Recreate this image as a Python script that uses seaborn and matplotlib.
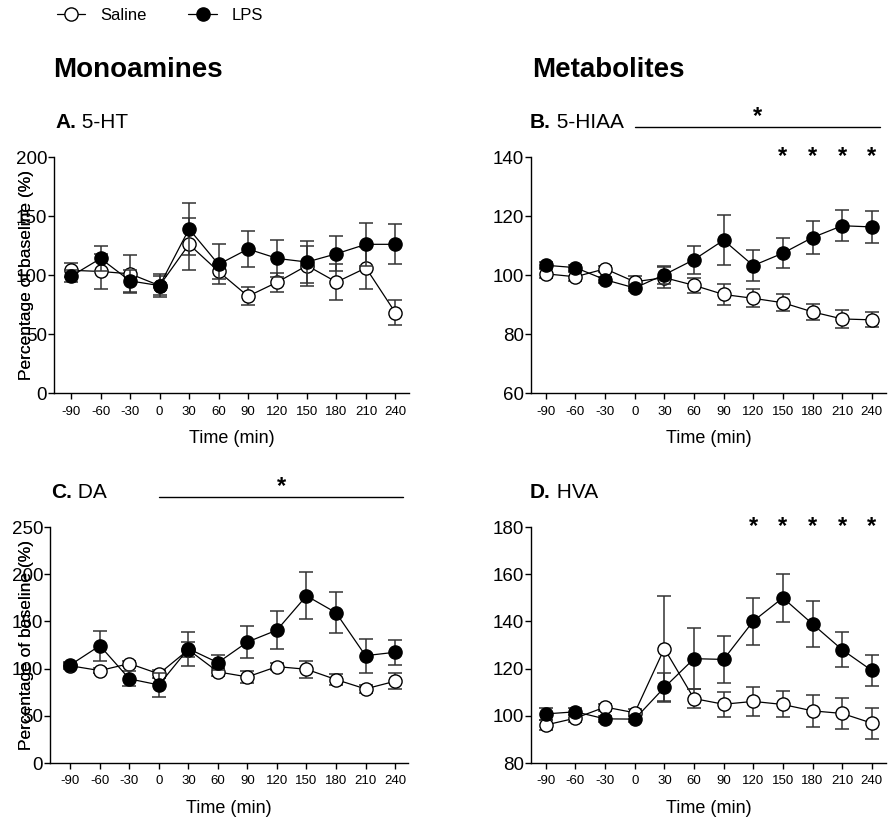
import numpy as np
import pandas as pd
import matplotlib
matplotlib.use("Agg")
import matplotlib.pyplot as plt
from matplotlib.lines import Line2D
import seaborn as sns

# ---------------- data ----------------
time_labels = ['-90', '-60', '-30', '0', '30', '60', '90', '120', '150', '180', '210', '240']

sal_5ht = [104, 103, 101, 91, 126, 103, 82, 94, 108, 94, 106, 68]
sal_5ht_sem = [6, 15, 16, 8, 22, 6, 7.5, 8, 17, 15, 18, 10.5]
lps_5ht = [99, 114, 95, 91, 139, 109, 122, 114, 111, 118, 126, 126]
lps_5ht_sem = [5, 11, 9, 10, 22, 17, 15, 16, 18, 15, 18, 17]

sal_5hiaa = [100.4, 99.4, 102.1, 97.7, 99.1, 96.5, 93.4, 92.1, 90.6, 87.5, 85.1, 84.8]
sal_5hiaa_sem = [1.5, 1.5, 1, 2, 3.5, 2.5, 3.5, 3, 2.8, 2.8, 3, 2.5]
lps_5hiaa = [103.3, 102.5, 98.4, 95.6, 100.1, 105.2, 111.8, 103.2, 107.4, 112.7, 116.7, 116.3]
lps_5hiaa_sem = [1, 1, 1, 1, 3, 4.7, 8.5, 5.4, 5, 5.6, 5.2, 5.5]

sal_da = [103, 97.9, 105.3, 94.4, 120, 96.5, 91.2, 102.1, 99.3, 88.4, 78.5, 86.6]
sal_da_sem = [3, 3, 3, 4, 8, 4, 6.5, 4, 9, 6, 4, 8.5]
lps_da = [103.9, 124.3, 89.1, 82.7, 121.1, 106.3, 128.2, 140.8, 177.1, 159.2, 113.7, 117.3]
lps_da_sem = [3, 16, 8, 13, 18, 8, 17, 20, 25, 22, 18, 13]

sal_hva = [96.1, 99.0, 103.7, 101.3, 128.5, 107.3, 104.9, 106.1, 104.8, 102.1, 101.0, 96.9]
sal_hva_sem = [2, 1.5, 1.5, 1.5, 22.3, 4.2, 5.2, 6.3, 5.5, 6.8, 6.7, 6.6]
lps_hva = [100.8, 101.7, 98.7, 98.6, 112.0, 124.2, 123.9, 140.1, 150.0, 138.9, 128.0, 119.2]
lps_hva_sem = [2.7, 1.5, 1.2, 1.2, 6, 13, 9.8, 9.9, 10.1, 9.7, 7.4, 6.4]

panel_letters = ['A.', 'B.', 'C.', 'D.']
panel_names = ['5-HT', '5-HIAA', 'DA', 'HVA']
section_titles = ['Monoamines', 'Metabolites']
legend_labels = ['Saline', 'LPS']

# significance: (bar start index, bar end index) or None ; star indices
sig_bar = [None, (3, 11.28), (3, 11.28), None]
sig_points = [[], [8, 9, 10, 11], [], [7, 8, 9, 10, 11]]

# ---------------- style ----------------
sns.set_theme(style="ticks")
plt.rcParams['font.family'] = ['Liberation Sans', 'DejaVu Sans']
plt.rcParams['axes.linewidth'] = 1.0
plt.rcParams['text.color'] = 'black'
plt.rcParams['axes.labelcolor'] = 'black'
plt.rcParams['xtick.color'] = 'black'
plt.rcParams['ytick.color'] = 'black'
plt.rcParams['axes.edgecolor'] = 'black'

W, H = 888, 817
fig = plt.figure(figsize=(W / 100, H / 100), dpi=100)


def axpos(l, r, t, b):
    return [l / W, 1 - b / H, (r - l) / W, (b - t) / H]


boxes = [(54, 409, 157, 393), (531, 886, 157, 393),
         (50, 408, 527, 763), (531, 886, 527, 763)]
xlims = [(-0.58, 11.46), (-0.5, 11.48), (-0.69, 11.44), (-0.5, 11.48)]
ylims = [(0, 200), (60, 140), (0, 250), (80, 180)]
ysteps = [50, 20, 50, 20]

sal_sets = [(sal_5ht, sal_5ht_sem), (sal_5hiaa, sal_5hiaa_sem), (sal_da, sal_da_sem), (sal_hva, sal_hva_sem)]
lps_sets = [(lps_5ht, lps_5ht_sem), (lps_5hiaa, lps_5hiaa_sem), (lps_da, lps_da_sem), (lps_hva, lps_hva_sem)]

idx = np.arange(len(time_labels))
ms = 9.5
ecol = '#333333'

for i in range(4):
    ax = fig.add_axes(axpos(*boxes[i]))
    sv, se = sal_sets[i]
    lv, le = lps_sets[i]
    df = pd.DataFrame({'t': np.concatenate([idx, idx]),
                       'v': list(sv) + list(lv),
                       'g': [legend_labels[0]] * len(idx) + [legend_labels[1]] * len(idx)})
    # saline
    ax.errorbar(idx, sv, yerr=se, fmt='none', ecolor=ecol, elinewidth=1.1,
                capsize=4.8, capthick=1.1, zorder=2)
    sns.lineplot(data=df[df.g == legend_labels[0]], x='t', y='v', ax=ax, color='black',
                 lw=0.9, marker='o', markersize=ms, markerfacecolor='white',
                 markeredgecolor='black', markeredgewidth=1.0, zorder=3, legend=False,
                 errorbar=None)
    # LPS
    ax.errorbar(idx, lv, yerr=le, fmt='none', ecolor=ecol, elinewidth=1.1,
                capsize=4.8, capthick=1.1, zorder=4)
    sns.lineplot(data=df[df.g == legend_labels[1]], x='t', y='v', ax=ax, color='black',
                 lw=0.9, marker='o', markersize=ms, markerfacecolor='black',
                 markeredgecolor='black', markeredgewidth=1.0, zorder=5, legend=False,
                 errorbar=None)

    ax.set_xlim(*xlims[i])
    ax.set_ylim(*ylims[i])
    ax.set_xticks(idx)
    ax.set_xticklabels(time_labels, fontsize=9.5)
    ax.set_yticks(np.arange(ylims[i][0], ylims[i][1] + 1, ysteps[i]))
    ax.tick_params(axis='y', labelsize=13.5, length=4, width=1, direction='out', pad=1)
    ax.tick_params(axis='x', length=4, width=1, direction='out', pad=5)
    sns.despine(ax=ax)
    ax.set_xlabel('Time (min)', fontsize=13, labelpad=9)
    ax.set_ylabel('Percentage of baseline (%)', fontsize=12.5)
    l, r, t, b = boxes[i]
    ax.yaxis.set_label_coords((34 - l) / (r - l), 0.5)

    # panel title
    ty = (b - (t - 35)) / (b - t)
    t1 = ax.text((boxes[i][0] + (1 if i % 2 == 0 else -1) - l) / (r - l), ty, panel_letters[i],
                 transform=ax.transAxes, fontsize=15, fontweight='bold', va='center', ha='left')
    ax.annotate(' ' + panel_names[i], xy=(1, 0.5), xycoords=t1, va='center', ha='left', fontsize=15)

    tr = ax.get_xaxis_transform()
    if sig_bar[i] is not None:
        x0, x1 = sig_bar[i]
        ax.plot([x0, x1], [1.127, 1.127], transform=tr, color='black', lw=1.0, clip_on=False)
        ax.text((x0 + x1) / 2, 1.17, '*', transform=tr, ha='center', va='center',
                fontsize=17, fontweight='bold')
    for p in sig_points[i]:
        ax.text(p, 1.0, '*', transform=tr, ha='center', va='center',
                fontsize=17, fontweight='bold')

# section headers
fig.text(53 / W, 1 - 70 / H, section_titles[0], fontsize=20, fontweight='bold', va='center', ha='left')
fig.text(532 / W, 1 - 70 / H, section_titles[1], fontsize=20, fontweight='bold', va='center', ha='left')

# legend
handles = [Line2D([0], [0], color='black', lw=0.9, marker='o', markersize=ms,
                  markerfacecolor='white', markeredgecolor='black'),
           Line2D([0], [0], color='black', lw=0.9, marker='o', markersize=ms,
                  markerfacecolor='black', markeredgecolor='black')]
fig.legend(handles, legend_labels, loc='center left', bbox_to_anchor=(57 / W, 1 - 15 / H),
           ncol=2, frameon=False, fontsize=12, handlelength=1.7, handletextpad=0.9,
           columnspacing=2.5, borderpad=0, borderaxespad=0)

fig.savefig('out.png', dpi=100)
